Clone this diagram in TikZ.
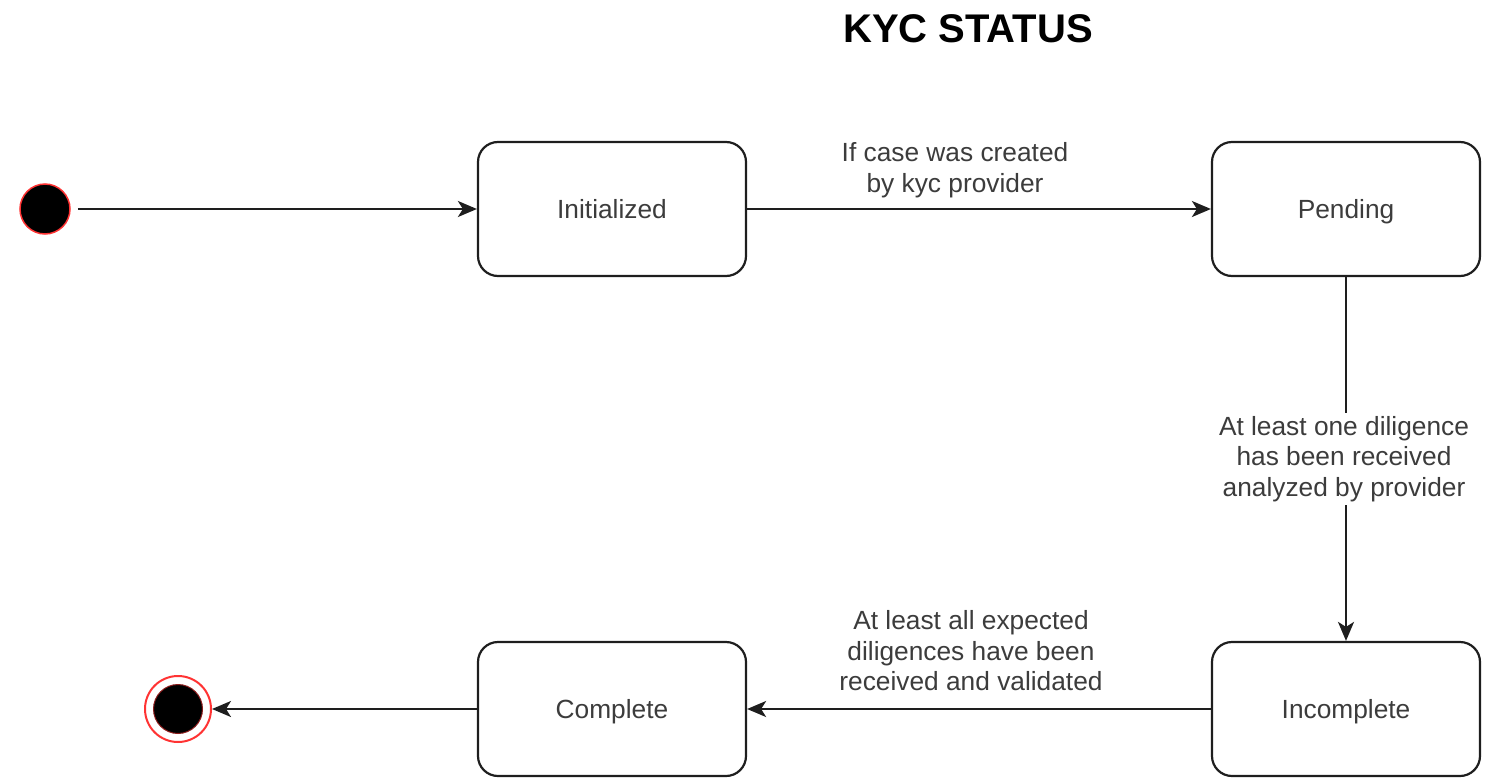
\documentclass[tikz,border=0pt]{standalone}
\usepackage{fontspec}
\setmainfont{Liberation Sans}
\usetikzlibrary{arrows.meta}
\definecolor{ln}{HTML}{1E1E1E}
\definecolor{tx}{HTML}{3C3C3C}
\definecolor{rd}{HTML}{FF3333}
\begin{document}
\begin{tikzpicture}[x=1pt,y=-1pt,
  state/.style={draw=ln,line width=2.2pt,rounded corners=20pt,minimum width=268pt,minimum height=134pt,
    text=tx,font=\fontsize{26.3}{30.5}\selectfont,inner sep=0pt,text height=18.8pt,text depth=0pt},
  lbl/.style={text=tx,font=\fontsize{26.3}{30.5}\selectfont,align=center,fill=white,inner sep=3pt},
  conn/.style={draw=ln,line width=2.2pt,-{Stealth[length=19pt,width=16pt,inset=5pt]}}]
\useasboundingbox (0,0) rectangle (1486,779);
\node[font=\bfseries\fontsize{40}{46}\selectfont] (title) at (968,29) {KYC STATUS};
\node[circle,fill=black,draw=rd,line width=1.5pt,minimum size=50pt,inner sep=0pt] (start) at (45,209) {};
\node[circle,draw=rd,line width=2pt,minimum size=66pt,inner sep=0pt] (endo) at (178,709) {};
\node[circle,fill=black,draw=rd!55!black,line width=1pt,minimum size=49pt,inner sep=0pt] (endi) at (178,709) {};
\node[state] (init) at (612,209) {Initialized};
\node[state] (pend) at (1346,209) {Pending};
\node[state] (inc) at (1346,709) {Incomplete};
\node[state] (comp) at (612,709) {Complete};
\draw[conn,shorten <=7pt] (start) -- (init);
\draw[conn] (init) -- node[lbl,xshift=-24pt,yshift=39pt]{If case was created\\by kyc provider} (pend);
\draw[conn] (pend) -- node[lbl,xshift=-2pt,yshift=0pt]{At least one diligence\\has been received\\analyzed by provider} (inc);
\draw[conn] (inc) -- node[lbl,xshift=-8pt,yshift=58pt]{At least all expected\\diligences have been\\received and validated} (comp);
\draw[conn] (comp) -- (endo);
\end{tikzpicture}
\end{document}
